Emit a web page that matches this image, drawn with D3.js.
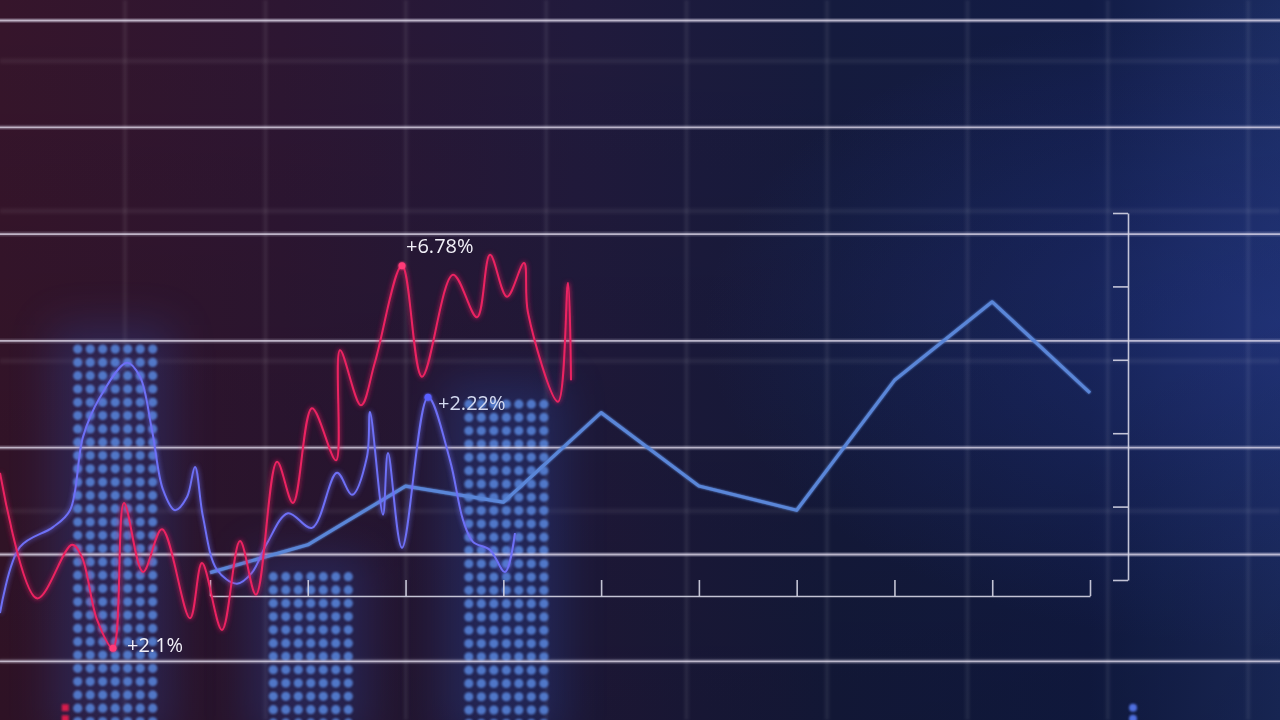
<!DOCTYPE html>
<html><head><meta charset="utf-8">
<script src="https://cdn.jsdelivr.net/npm/d3@7"></script>
<style>html,body{margin:0;padding:0;background:#161a3a;overflow:hidden}svg{display:block}</style>
</head><body><svg id="c" width="1280" height="720"></svg>
<script>
// ---------- data ----------
const periods = [1, 2, 3, 4, 5, 6, 7, 8, 9, 10];
const trendValues = [0.10, 0.48, 1.28, 1.06, 2.28, 1.28, 0.95, 2.72, 3.79, 2.55];
const yTicks = [0, 1, 2, 3, 4, 5];

const barPeriods = [0, 2, 4];
const barValues = [3.2, 0.1, 2.45];
const edgeBarPeriods = [-0.48, 10.44];
const edgeBarValues = [-1.74, -1.74];

const redT = [0, 3.7, 7.2, 8.2, 9.7, 11.3, 12.4, 14.3, 16.2, 19.0, 20.2, 22.2, 24.0, 25.6, 27.7, 29.3, 31.2, 33.6, 34.0, 36.1, 37.5, 40.2, 42.2, 45.3, 47.7, 49.0, 50.7, 52.4, 52.8, 55.8, 56.8, 57.1];
const redV = [1.46, -0.25, 0.48, 0.31, -0.54, -0.93, 1.05, 0.11, 0.69, -0.52, 0.23, -0.68, 0.53, -0.20, 1.61, 1.05, 2.34, 1.63, 3.13, 2.38, 2.97, 4.28, 2.77, 4.16, 3.58, 4.43, 3.86, 4.32, 3.64, 2.43, 4.05, 2.72];

const blueT = [0, 2.0, 5.3, 7.0, 8.3, 10.0, 12.7, 14.0, 15.2, 16.3, 17.5, 18.7, 19.5, 20.3, 21.7, 23.7, 25.2, 26.7, 28.8, 31.2, 33.7, 35.2, 36.7, 37.0, 38.3, 38.8, 40.2, 42.8, 45.0, 46.3, 47.3, 49.0, 50.5, 51.5];
const blueV = [-0.45, 0.45, 0.72, 0.95, 1.95, 2.49, 2.96, 2.77, 2.04, 1.23, 0.95, 1.13, 1.54, 0.86, 0.14, -0.05, 0.10, 0.50, 0.91, 0.71, 1.46, 1.16, 1.68, 2.29, 0.89, 1.73, 0.44, 2.49, 1.63, 0.82, 0.52, 0.41, 0.11, 0.64];

const annLabels = ["+6.78%", "+2.22%", "+2.1%"];
const annSeries = ["red", "blue", "red"];
const annT = [40.2, 42.8, 11.3];
const annV = [4.28, 2.49, -0.93];

// ---------- setup ----------
const W = 1280, H = 720;
const svg = d3.select("#c");
const defs = svg.append("defs");

const x = d3.scaleLinear().domain([1, 10]).range([210, 1090]);
const y = d3.scaleLinear().domain([0, 5]).range([580, 213]);
const t = d3.scaleLinear().domain([0, 128]).range([0, 1280]);

// background gradient
const bg = defs.append("linearGradient").attr("id", "bg").attr("x1", 0).attr("x2", 1).attr("y1", 0).attr("y2", 0);
[["0%", "#36152b"], ["22%", "#2d1632"], ["45%", "#211a3c"], ["65%", "#151b3e"], ["85%", "#121c46"], ["100%", "#1b2b60"]]
  .forEach(([o, c]) => bg.append("stop").attr("offset", o).attr("stop-color", c));
const rg = defs.append("radialGradient").attr("id", "rg").attr("cx", 1).attr("cy", 0.45).attr("r", 0.45);
rg.append("stop").attr("offset", "0%").attr("stop-color", "#2a40a0").attr("stop-opacity", 0.45);
rg.append("stop").attr("offset", "100%").attr("stop-color", "#2a40a0").attr("stop-opacity", 0);
const vg = defs.append("linearGradient").attr("id", "vg").attr("x1", 0).attr("x2", 0).attr("y1", 0).attr("y2", 1);
vg.append("stop").attr("offset", "0%").attr("stop-color", "#000").attr("stop-opacity", 0.0);
vg.append("stop").attr("offset", "100%").attr("stop-color", "#000").attr("stop-opacity", 0.15);

svg.append("rect").attr("width", W).attr("height", H).attr("fill", "url(#bg)");
svg.append("rect").attr("width", W).attr("height", H).attr("fill", "url(#rg)");
svg.append("rect").attr("width", W).attr("height", H).attr("fill", "url(#vg)");

// filters
function glow(id, sd) {
  const f = defs.append("filter").attr("id", id).attr("x", "-20%").attr("y", "-20%").attr("width", "140%").attr("height", "140%");
  f.append("feGaussianBlur").attr("in", "SourceGraphic").attr("stdDeviation", sd).attr("result", "b");
  const m = f.append("feMerge");
  m.append("feMergeNode").attr("in", "b");
  m.append("feMergeNode").attr("in", "SourceGraphic");
}
glow("glow", 2.5);
glow("glowS", 1.2);
const blurF = defs.append("filter").attr("id", "blur").attr("x", "-50%").attr("y", "-50%").attr("width", "200%").attr("height", "200%");
blurF.append("feGaussianBlur").attr("stdDeviation", 22);
const blurG = defs.append("filter").attr("id", "blurg");
blurG.append("feGaussianBlur").attr("stdDeviation", 1.6);
const dotBlur = defs.append("filter").attr("id", "dotblur").attr("x", "-20%").attr("y", "-20%").attr("width", "140%").attr("height", "140%");
dotBlur.append("feGaussianBlur").attr("stdDeviation", 0.8);

// faint background grid
const faint = svg.append("g").attr("filter", "url(#blurg)");
d3.range(-1, 9).forEach(k => faint.append("line").attr("x1", 125 + 140.4 * k).attr("x2", 125 + 140.4 * k).attr("y1", 0).attr("y2", H)
  .attr("stroke", "#ffffff").attr("stroke-opacity", 0.07).attr("stroke-width", 4));
d3.range(0, 5).forEach(k => faint.append("line").attr("x1", 0).attr("x2", W).attr("y1", 61 + 150 * k).attr("y2", 61 + 150 * k)
  .attr("stroke", "#ffffff").attr("stroke-opacity", 0.06).attr("stroke-width", 5));

// bars as dot matrices
const bars = barPeriods.map((p, i) => ({ p, v: barValues[i] }));
const barG = svg.append("g");
bars.forEach(b => {
  const cx = x(b.p), top = y(b.v);
  barG.append("rect").attr("x", cx - 60).attr("y", top - 20).attr("width", 120).attr("height", H - top + 40)
    .attr("fill", "#2d56c0").attr("opacity", 0.26).attr("filter", "url(#blur)");
});
const dotG = barG.append("g").attr("filter", "url(#dotblur)");
bars.forEach(b => {
  const cx = x(b.p) + 3, top = y(b.v);
  const cols = 7;
  const rows = d3.range(top + 4, H + 10, 13.3);
  rows.forEach(ry => {
    d3.range(cols).forEach(c => {
      dotG.append("circle").attr("cx", cx + (c - (cols - 1) / 2) * 12.5).attr("cy", ry).attr("r", 4.6)
        .attr("fill", "#5783d8").attr("opacity", 0.88);
    });
  });
});
edgeBarPeriods.forEach((p, i) => {
  const cx = x(p), top = y(edgeBarValues[i]);
  d3.range(top, H + 10, 11).forEach(ry => {
    if (i === 0) dotG.append("rect").attr("x", cx - 3.5).attr("y", ry - 3.5).attr("width", 7).attr("height", 7).attr("fill", "#d81e4c");
    else dotG.append("circle").attr("cx", cx).attr("cy", ry).attr("r", 4).attr("fill", "#4f6fe0");
  });
});

// bright horizontal lines
const bright = svg.append("g");
d3.range(0, 7).forEach(k => {
  const yy = 20.5 + 106.8 * k;
  bright.append("line").attr("x1", 0).attr("x2", W).attr("y1", yy).attr("y2", yy)
    .attr("stroke", "#f0eaff").attr("stroke-opacity", 0.18).attr("stroke-width", 5);
  bright.append("line").attr("x1", 0).attr("x2", W).attr("y1", yy).attr("y2", yy)
    .attr("stroke", "#ece6f6").attr("stroke-opacity", 0.72).attr("stroke-width", 1.8);
});

// axes
const axisCol = "#d6d6e6";
const xAxis = svg.append("g").attr("transform", "translate(0,596)")
  .call(d3.axisBottom(x).tickValues(periods).tickSize(-16).tickSizeOuter(0).tickFormat(""));
const yAxis = svg.append("g").attr("transform", "translate(1128,0)")
  .call(d3.axisRight(y).tickValues(yTicks).tickSize(-15).tickSizeOuter(0).tickFormat(""));
[xAxis, yAxis].forEach(a => {
  a.selectAll("path,line").attr("stroke", axisCol).attr("stroke-width", 1.6).attr("stroke-opacity", 0.9);
  a.selectAll("text").remove();
});

// trend line
const trend = periods.map((p, i) => ({ p, v: trendValues[i] }));
svg.append("path").datum(trend)
  .attr("d", d3.line().x(d => x(d.p)).y(d => y(d.v)))
  .attr("fill", "none").attr("stroke", "#5a86d8").attr("stroke-width", 3.2)
  .attr("stroke-linejoin", "round").attr("filter", "url(#glowS)");

// wiggly series
const red = redT.map((tt, i) => ({ t: tt, v: redV[i] }));
const blue = blueT.map((tt, i) => ({ t: tt, v: blueV[i] }));
const wl = d3.line().x(d => t(d.t)).y(d => y(d.v)).curve(d3.curveCatmullRom.alpha(0.5));

svg.append("path").datum(blue).attr("d", wl).attr("fill", "none")
  .attr("stroke", "#6e6ff6").attr("stroke-width", 2).attr("filter", "url(#glow)");
svg.append("path").datum(red).attr("d", wl).attr("fill", "none")
  .attr("stroke", "#ec2462").attr("stroke-width", 2).attr("filter", "url(#glow)");

// annotations
const ann = annLabels.map((l, i) => ({ l, s: annSeries[i], t: annT[i], v: annV[i] }));
const offs = [[4, -13], [10, 13], [14, 4]];
ann.forEach((a, i) => {
  const px = t(a.t), py = y(a.v);
  svg.append("circle").attr("cx", px).attr("cy", py).attr("r", 3.5)
    .attr("fill", a.s === "red" ? "#ff3a78" : "#5a60ff").attr("filter", "url(#glowS)");
  svg.append("text").attr("x", px + offs[i][0]).attr("y", py + offs[i][1])
    .attr("font-family", "'Open Sans', 'Noto Sans', sans-serif").attr("font-size", 20)
    .attr("fill", i === 1 ? "#d4daf0" : "#f2f0f8").text(a.l);
});
</script></body></html>
